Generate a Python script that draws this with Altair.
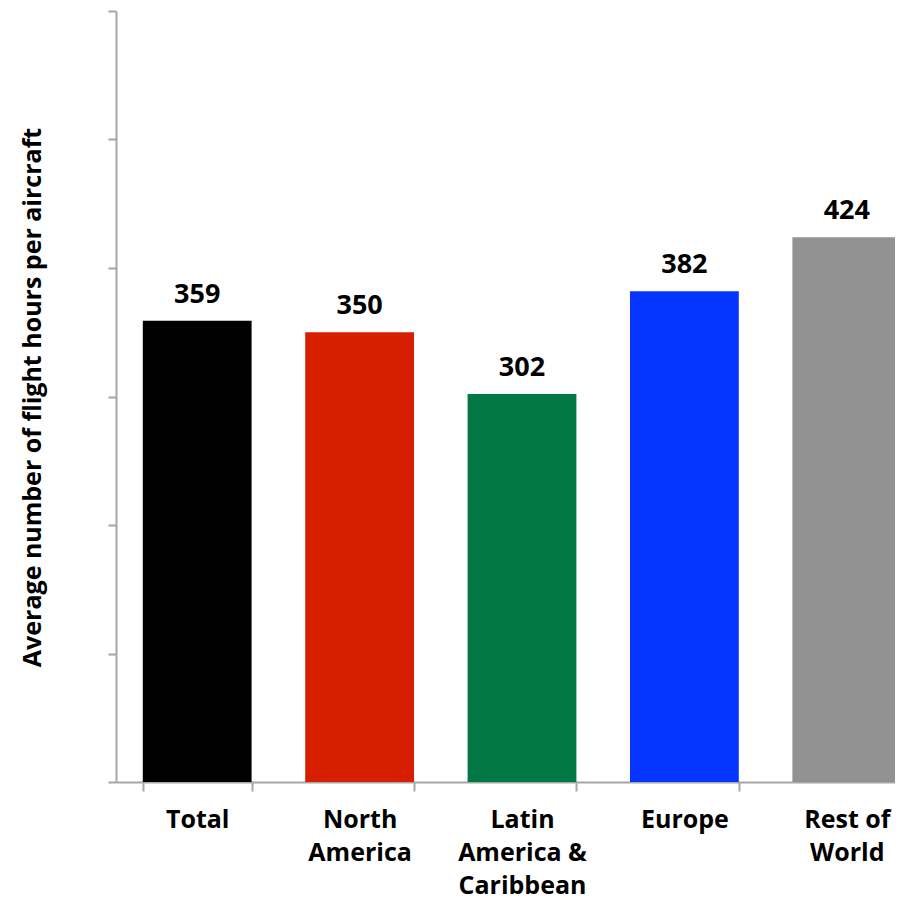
import altair as alt
import pandas as pd

categories = ["Total", "North\nAmerica", "Latin\nAmerica &\nCaribbean", "Europe", "Rest of\nWorld"]
values = [359, 350, 302, 382, 424]
colors = ["#000000", "#D71F00", "#017843", "#0535FE", "#929292"]

df = pd.DataFrame({"region": categories, "hours": values, "color": colors})

FONT = "Open Sans"

x = alt.X(
    "region:N",
    sort=categories,
    scale=alt.Scale(range=[0, 812], paddingInner=0.33, paddingOuter=0.165),
    axis=alt.Axis(
        title=None,
        labelAngle=0,
        labelExpr="split(datum.label, '\\n')",
        labelFont=FONT,
        labelFontWeight="bold",
        labelFontSize=25,
        labelLineHeight=33,
        labelColor="#000000",
        labelPadding=16,
        labelBaseline="top",
        tickBand="extent",
        tickSize=9,
        tickColor="#A6A6A6",
        tickWidth=2,
        domainColor="#A6A6A6",
        domainWidth=2,
    ),
)

y = alt.Y(
    "hours:Q",
    scale=alt.Scale(domain=[0, 600], nice=False),
    axis=alt.Axis(
        title="Average number of flight hours per aircraft",
        values=[0, 100, 200, 300, 400, 500, 600],
        labels=False,
        grid=False,
        tickSize=8,
        tickColor="#A6A6A6",
        tickWidth=2,
        domainColor="#A6A6A6",
        domainWidth=2,
        titleFont=FONT,
        titleFontWeight="bold",
        titleFontSize=25,
        titleColor="#000000",
        titleX=-84,
        titleY=386,
        titleAngle=-90,
        titleAlign="center",
        titleBaseline="middle",
    ),
)

bars = alt.Chart(df).mark_bar().encode(
    x=x,
    y=y,
    color=alt.Color("color:N", scale=None),
)

labels = alt.Chart(df).mark_text(
    font=FONT, fontWeight="bold", fontSize=27, dy=-18, baseline="alphabetic", color="#000000"
).encode(
    x=alt.X("region:N", sort=categories),
    y=alt.Y("hours:Q"),
    text=alt.Text("hours:Q"),
)

chart = (
    alt.layer(bars, labels)
    .properties(
        width=779,
        height=771,
        autosize=alt.AutoSizeParams(type="none"),
        padding={"left": 108, "top": 3, "right": 0, "bottom": 118},
    )
    .configure_view(stroke=None)
)

chart.save("out.html", embed_options={"renderer": "svg", "actions": False})
